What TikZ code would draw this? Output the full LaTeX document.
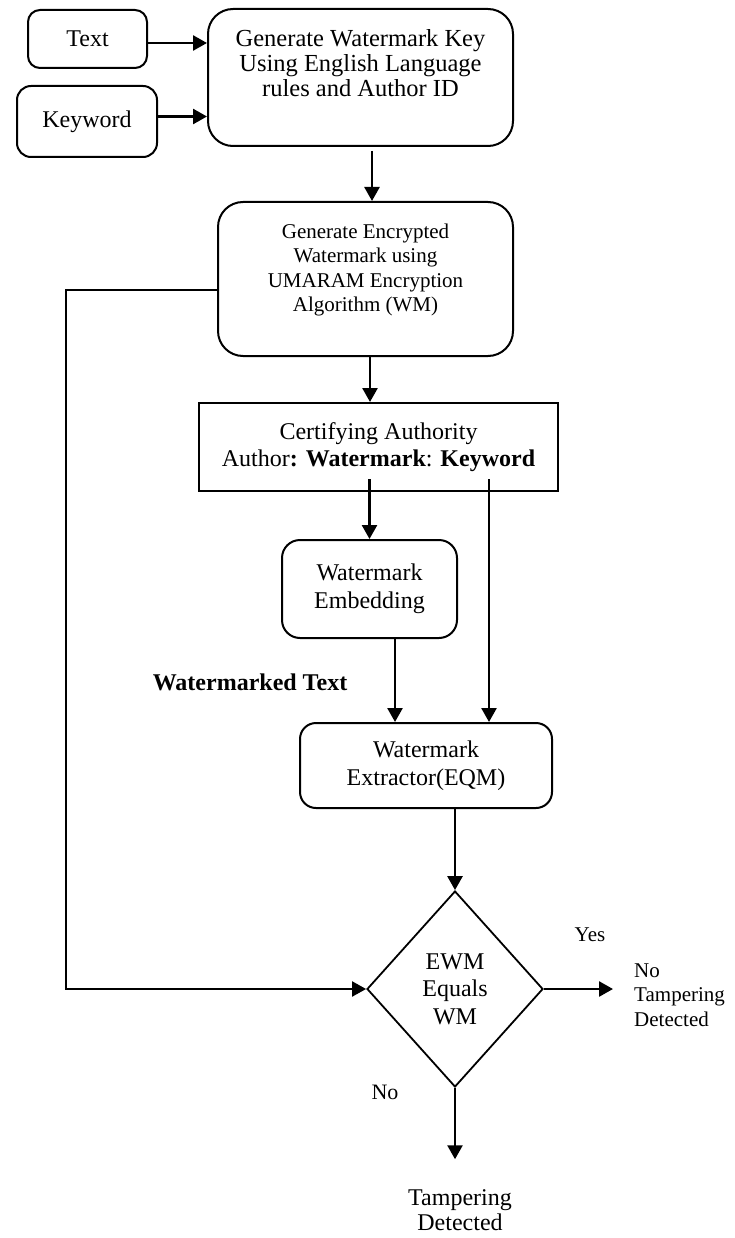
\documentclass[tikz,border=0pt]{standalone}
\usepackage{fontspec}
\setmainfont{Liberation Serif}
\usetikzlibrary{shapes.geometric, arrows.meta}
\newcommand{\testoGrande}{\fontsize{24}{27.5}\selectfont}
\newcommand{\testoMedio}{\fontsize{21}{24.5}\selectfont}

\begin{document}
\begin{tikzpicture}[x=1pt, y=-1pt,
    blocco/.style={draw, line width=2pt, rounded corners=#1, align=center, inner sep=0pt, font=\testoGrande},
    blocco/.default=16pt,
    scritta/.style={inner sep=0pt, align=center, font=\testoGrande},
    freccia/.style={line width=2.6pt, -{Triangle[length=14pt, width=15pt]}}]
    % Riquadro
    \useasboundingbox (0,0) rectangle (735,1238);
    % Ingressi
    \node[blocco=12pt, minimum width=119pt, minimum height=58pt] (testo) at (87.5,39) {Text};
    \node[blocco=14pt, minimum width=140pt, minimum height=71pt] (parolaChiave) at (87,121.5) {Keyword};
    % Blocchi principali
    \node[blocco=25pt, minimum width=305pt, minimum height=137pt, font=\fontsize{24.5}{25}\selectfont] (genChiave) at (360.5,77.5)
        {Generate Watermark Key\\Using English Language\\rules and Author ID\\[4pt]\mbox{}};
    \node[blocco=25pt, minimum width=295pt, minimum height=154pt, font=\testoMedio] (cifratura) at (365.5,279)
        {Generate Encrypted\\Watermark using\\UMARAM Encryption\\Algorithm (WM)\\[-2pt]\mbox{}};
    \node[blocco=0pt, minimum width=359pt, minimum height=88pt] (certificato) at (378.5,447)
        {Certifying Authority\\Author\textbf{: Watermark}: \textbf{Keyword}};
    \node[blocco=18pt, minimum width=175pt, minimum height=98pt] (inserimento) at (369.5,589)
        {Watermark\\Embedding};
    \node[blocco=16pt, minimum width=252pt, minimum height=85pt] (estrattore) at (426,765.5)
        {Watermark\\Extractor(EQM)};
    \node[draw, diamond, line width=1.8pt, minimum width=176pt, minimum height=196pt, inner sep=0pt,
        align=center, font=\testoGrande] (confronto) at (455,989) {EWM\\Equals\\WM};
    % Uscite e scritte
    \node[scritta, anchor=west, align=left, font=\testoMedio] (noManomissione) at (634,995) {No\\Tampering\\Detected};
    \node[scritta, font=\fontsize{24}{25}\selectfont] (manomissione) at (460,1210) {Tampering\\Detected};
    \node[scritta, font=\bfseries\testoGrande] (marcato) at (250,682) {Watermarked Text};
    \node[scritta, font=\testoMedio] (si) at (590,935) {Yes};
    \node[scritta, font=\fontsize{22}{25}\selectfont] (no) at (385,1092.5) {No};
    % Frecce
    \draw[freccia] ([yshift=-4pt]testo.east) -- ([yshift=-4pt]testo.east -| genChiave.west);
    \draw[freccia] ([yshift=5pt]parolaChiave.east) -- ([yshift=5pt]parolaChiave.east -| genChiave.west);
    \draw[freccia, shorten <=4pt] ([xshift=11.5pt]genChiave.south) -- ([xshift=11.5pt]genChiave.south |- cifratura.north);
    \draw[freccia] ([xshift=4.5pt]cifratura.south) -- ([xshift=4.5pt]cifratura.south |- certificato.north);
    \draw[freccia] ([yshift=13pt]certificato.south -| inserimento.north) -- (inserimento.north);
    \draw[freccia] ([xshift=110.5pt, yshift=13pt]certificato.south) -- ([xshift=63pt]estrattore.north);
    \draw[freccia] ([xshift=25.5pt]inserimento.south) -- ([xshift=-31pt]estrattore.north);
    \draw[freccia] (confronto.north |- estrattore.south) -- (confronto.north);
    \draw[freccia, line width=2pt] ([yshift=-11pt]cifratura.west) -- ++(-151,0) |- (confronto.west);
    \draw[freccia, shorten >=21pt] (confronto.east) -- (confronto.east -| noManomissione.west);
    \draw[freccia, shorten >=30pt] (confronto.south) -- (confronto.south |- manomissione.north);
\end{tikzpicture}
\end{document}
